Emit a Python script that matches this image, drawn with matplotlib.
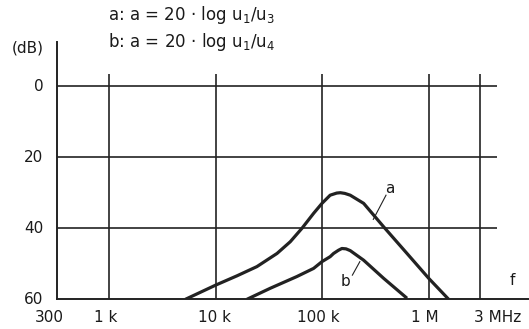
import matplotlib
matplotlib.use("Agg")
import matplotlib.pyplot as plt
import numpy as np

# ---- data ----
freq_a_khz = [5.2, 10, 15.8, 24.3, 37.5, 49.9, 64.3, 82.6, 98.9, 118, 136, 147, 162, 182, 243, 374, 619, 989, 1520]
att_a_db = [60, 56.0, 53.4, 50.8, 47.1, 43.8, 40.0, 35.8, 33.0, 30.7, 30.1, 30.0, 30.2, 30.7, 33.0, 39.6, 47.1, 54.1, 60]
freq_b_khz = [19.6, 32.4, 57.5, 82.6, 98.9, 118, 127, 141, 152, 166, 182, 243, 374, 619]
att_b_db = [60, 56.9, 53.6, 51.3, 49.4, 48.0, 47.1, 46.2, 45.7, 45.8, 46.3, 49.0, 54.1, 59.7]

x_grid_hz = [1e3, 1e4, 1e5, 1e6, 3e6]
x_tick_labels = ["300", "1 k", "10 k", "100 k", "1 M", "3 MHz"]
y_grid_db = [0, 20, 40]
y_tick_labels = ["0", "20", "40", "60"]
y_ticks = [0, 20, 40, 60]

ink = "#222222"
txt = "#1a1a1a"

fig = plt.figure(figsize=(5.29, 3.29), dpi=100)
W, H = 529, 329
x0, x1 = 57.3, 529
y_top, y_bot = 41.7, 299.3
ax = fig.add_axes([x0 / W, 1 - y_bot / H, (x1 - x0) / W, (y_bot - y_top) / H])

xmin, xmax = 328, 8.6e6
ax.set_xscale("log")
ax.set_xlim(xmin, xmax)
ax.set_ylim(60, -12.5)

for s in ["top", "right"]:
    ax.spines[s].set_visible(False)
for s in ["left", "bottom"]:
    ax.spines[s].set_color(ink)
    ax.spines[s].set_linewidth(1.4)
ax.set_xticks([])
ax.set_yticks([])
ax.minorticks_off()

# grid
ax.hlines(y_grid_db, xmin, 4.3e6, color=ink, lw=1.2)
ax.vlines(x_grid_hz, 60, -3.5, color=ink, lw=1.2)

# curves
ax.plot(np.array(freq_a_khz) * 1e3, att_a_db, color=ink, lw=2.3, solid_capstyle="butt")
ax.plot(np.array(freq_b_khz) * 1e3, att_b_db, color=ink, lw=2.3, solid_capstyle="butt")

fs = 11
# curve labels with leader lines
ax.plot([10**5.595, 10**5.476], [30.7, 37.5], color=ink, lw=0.8)
ax.text(10**5.634, 28.7, "a", ha="center", va="center", fontsize=fs, color=txt)
ax.plot([10**5.28, 10**5.35], [53.2, 49.4], color=ink, lw=0.8)
ax.text(10**5.212, 55.0, "b", ha="center", va="center", fontsize=fs, color=txt)
ax.text(10**6.774, 54.6, "f", ha="center", va="center", fontsize=fs, color=txt)

# y tick labels
for v, lab in zip(y_ticks, y_tick_labels):
    ax.text(-0.03, v, lab, transform=ax.get_yaxis_transform(), ha="right", va="center",
            fontsize=fs, color=txt)

# x tick labels (positions in log10 Hz, slightly left of the gridlines as in the reference)
x_label_log = [2.44, 2.97, 3.99, 4.96, 5.96]
ytxt = -(318 - y_bot) / (y_bot - y_top)
for lg, lab in zip(x_label_log, x_tick_labels[:-1]):
    ax.text(10**lg, ytxt, lab, transform=ax.get_xaxis_transform(), ha="center", va="center",
            fontsize=fs, color=txt)
ax.text(10**6.42, ytxt, x_tick_labels[-1], transform=ax.get_xaxis_transform(), ha="left",
        va="center", fontsize=fs, color=txt)

hfs = 12
fig.text(28 / W, 1 - 48 / H, "(dB)", ha="center", va="center", fontsize=fs, color=txt)
fig.text(108 / W, 1 - 15 / H, r"a: a = 20 · log u$_\mathregular{1}$/u$_\mathregular{3}$",
         ha="left", va="center", fontsize=hfs, color=txt)
fig.text(108 / W, 1 - 42 / H, r"b: a = 20 · log u$_\mathregular{1}$/u$_\mathregular{4}$",
         ha="left", va="center", fontsize=hfs, color=txt)

fig.savefig("out.png", dpi=100)
